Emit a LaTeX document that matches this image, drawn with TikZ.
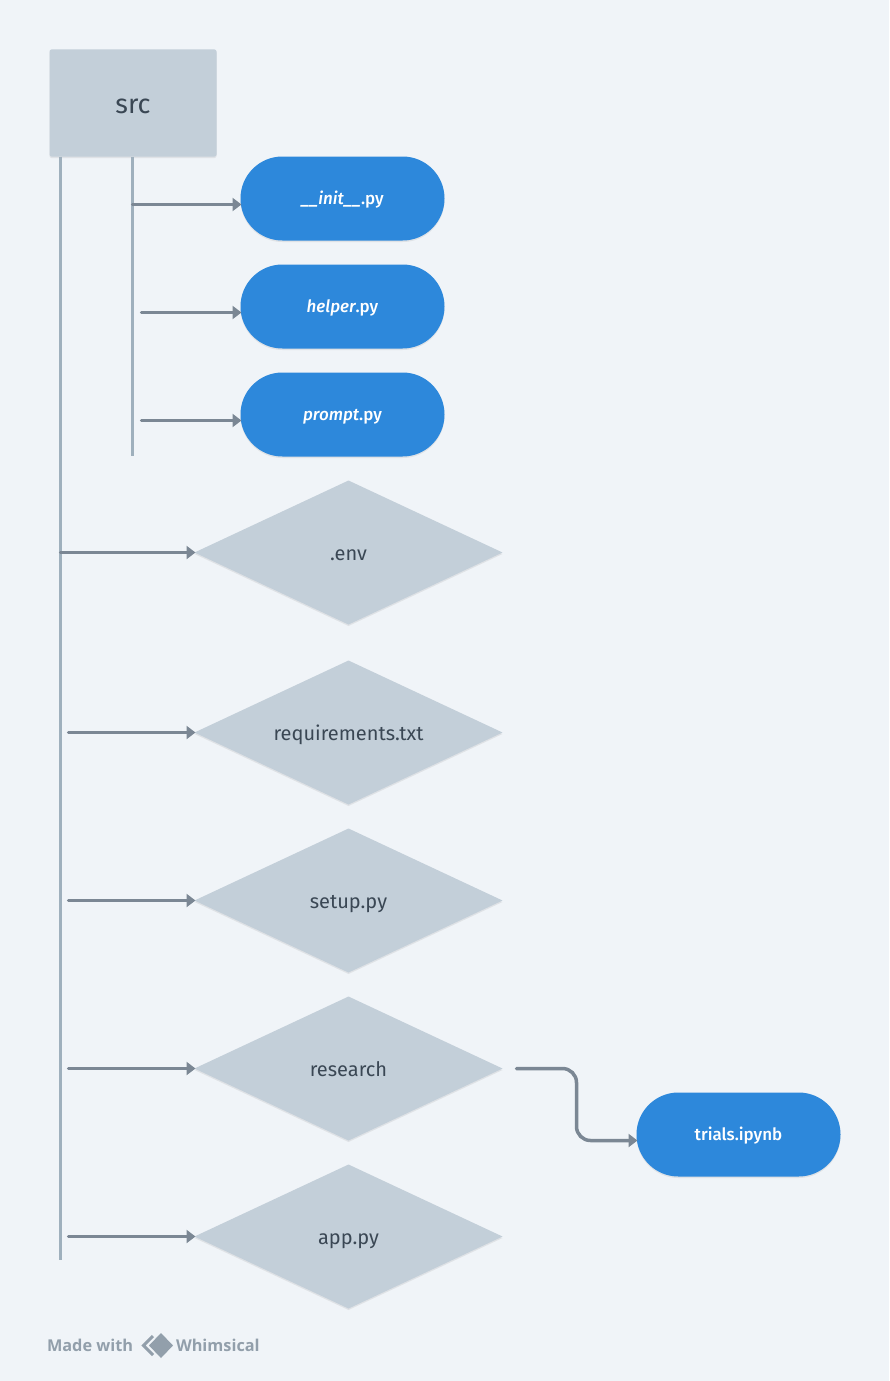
\documentclass[tikz,border=0pt]{standalone}
\usepackage{xcolor}
\usepackage{fontspec}
\setmainfont{Fira Sans}[BoldFont=* Medium, BoldItalicFont=* Medium Italic]
\newfontfamily\logofont{Open Sans}
\usetikzlibrary{arrows.meta,positioning,calc,shapes.geometric,shadows}
\definecolor{pagebg}{HTML}{F0F4F8}
\definecolor{boxgrey}{HTML}{C3CFD9}
\definecolor{pillblue}{HTML}{2D88DB}
\definecolor{inkdark}{HTML}{3A4754}
\definecolor{linegrey}{HTML}{7B8794}
\definecolor{trunkgrey}{HTML}{9FB0BD}
\definecolor{logogrey}{HTML}{929FAB}

\begin{document}
\begin{tikzpicture}[
  x=1pt, y=-1pt,
  outer sep=0pt,
  softshadow/.style={drop shadow={shadow xshift=0pt, shadow yshift=-1.5pt, opacity=0.12, fill=black!60}},
  folderbox/.style={fill=boxgrey, rounded corners=2pt, minimum width=167pt, minimum height=107pt, text=inkdark, text height=20pt, text depth=0pt, font=\fontsize{27}{30}\selectfont, softshadow},
  pillbox/.style={fill=pillblue, rounded corners=41.9pt, minimum width=204pt, minimum height=84pt, inner sep=0pt, text=white, text height=12pt, text depth=0pt, font=\bfseries\fontsize{17}{20}\selectfont, softshadow},
  filediamond/.style={diamond, shape aspect=2.14, fill=boxgrey, minimum width=308pt, minimum height=144pt, inner sep=0pt, text=inkdark, text height=15pt, text depth=0pt, font=\fontsize{20}{24}\selectfont, softshadow},
  logotext/.style={text=logogrey, font=\logofont\bfseries\fontsize{16.3}{20}\selectfont, inner sep=0pt},
  trunk/.style={draw=trunkgrey, line width=2.3pt},
  arrow/.style={-{Triangle[length=9pt,width=13pt]}, draw=linegrey, line width=3.5pt, line cap=round, shorten >=-1pt}
]
\useasboundingbox[fill=pagebg] (0,0) rectangle (889,1381);

\node[folderbox] (src) at (133,103) {src};
\node[pillbox, below right=0pt and 24pt of src.south east] (init) {\textit{\_\_init\_\_}.py};
\node[pillbox, below=24pt of init] (helper) {\textit{helper}.py};
\node[pillbox, below=24pt of helper] (prompt) {\textit{prompt}.py};
\node[filediamond, below=24pt of prompt, xshift=6pt] (env) {.env};
\node[filediamond, below=36pt of env] (req) {requirements.txt};
\node[filediamond, below=24pt of req] (setup) {setup.py};
\node[filediamond, below=24pt of setup] (research) {research};
\node[filediamond, below=24pt of research] (app) {app.py};
\node[pillbox, right=134pt of research, yshift=-66pt] (trials) {trials.ipynb};

% free ends
\coordinate (leftend) at (60.5,1260);
\coordinate (midend) at (132.5,456);
\coordinate (initstart) at (132.5,204.5);
\coordinate (helperstart) at (141.5,312.5);
\coordinate (promptstart) at (141.5,420.5);
\coordinate (envstart) at (60.5,552.5);
\coordinate (reqstart) at (68.5,732.5);
\coordinate (setupstart) at (68.5,900.5);
\coordinate (researchstart) at (68.5,1068.5);
\coordinate (appstart) at (68.5,1236.5);
\coordinate (trialsstart) at (516.5,1068.5);
\coordinate (bendtop) at (576.5,1068.5);
\coordinate (bendlow) at (576.5,1140.5);

\draw[trunk] (leftend |- src.south) -- (leftend);
\draw[trunk] (midend |- src.south) -- (midend);

\draw[arrow] (initstart) -- (initstart -| init.west);
\draw[arrow] (helperstart) -- (helperstart -| helper.west);
\draw[arrow] (promptstart) -- (promptstart -| prompt.west);
\draw[arrow] (envstart) -- (env.west);
\draw[arrow] (reqstart) -- (req.west);
\draw[arrow] (setupstart) -- (setup.west);
\draw[arrow] (researchstart) -- (research.west);
\draw[arrow] (appstart) -- (app.west);
\draw[arrow, rounded corners=14pt] (trialsstart) -- (bendtop) -- (bendlow) -- (bendlow -| trials.west);

% footer
\node[logotext, anchor=west] (made) at (47,1345) {Made with};
\node[logotext, anchor=west] (whimsical) at (176,1345) {Whimsical};
\draw[logogrey, line width=3pt, miter limit=2] (153,1336) -- (143.5,1345.5) -- (153,1355);
\fill[logogrey] (161,1333) -- (173,1345.5) -- (161,1358) -- (149,1345.5) -- cycle;
\end{tikzpicture}
\end{document}
